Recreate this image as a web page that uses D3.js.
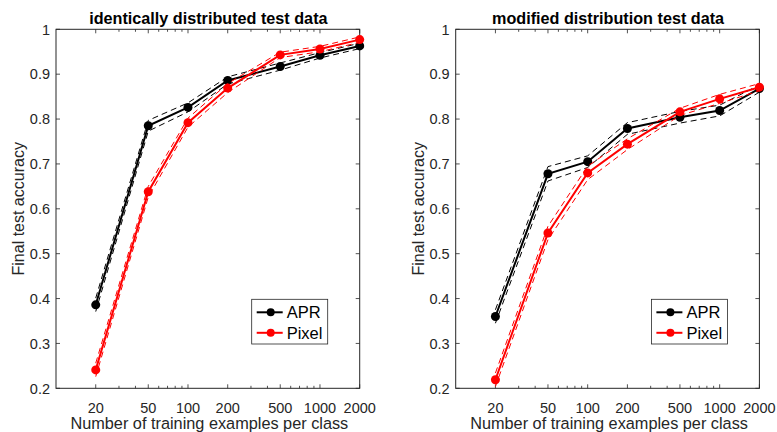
<!DOCTYPE html>
<html><head><meta charset="utf-8">
<script src="https://cdn.jsdelivr.net/npm/d3@7/dist/d3.min.js"></script>
<style>
body{margin:0;background:#fff;}
svg{display:block;font-family:"Liberation Sans",Arial,Helvetica,sans-serif;}
</style></head>
<body><svg id="c" width="777" height="432"></svg>
<script>
const xValues = [20, 50, 100, 200, 500, 1000, 2000];
const xTickLabels = ["20", "50", "100", "200", "500", "1000", "2000"];
const yTicks = [0.2, 0.3, 0.4, 0.5, 0.6, 0.7, 0.8, 0.9, 1];
const seriesNames = ["APR", "Pixel"];
const seriesColors = ["#000000", "#ff0000"];
const titles = ["identically distributed test data", "modified distribution test data"];

// left panel: identically distributed
const aprId      = [0.386, 0.785, 0.826, 0.886, 0.917, 0.942, 0.963];
const aprIdLo    = [0.371, 0.773, 0.816, 0.878, 0.909, 0.936, 0.957];
const aprIdHi    = [0.401, 0.797, 0.836, 0.894, 0.925, 0.948, 0.969];
const pixelId    = [0.241, 0.638, 0.792, 0.869, 0.943, 0.956, 0.977];
const pixelIdLo  = [0.226, 0.626, 0.782, 0.859, 0.937, 0.950, 0.971];
const pixelIdHi  = [0.256, 0.650, 0.802, 0.879, 0.949, 0.962, 0.983];

// right panel: modified distribution
const aprMod     = [0.360, 0.678, 0.705, 0.779, 0.804, 0.819, 0.868];
const aprModLo   = [0.345, 0.662, 0.692, 0.766, 0.791, 0.807, 0.860];
const aprModHi   = [0.375, 0.694, 0.718, 0.792, 0.817, 0.831, 0.876];
const pixelMod   = [0.219, 0.546, 0.680, 0.744, 0.816, 0.845, 0.871];
const pixelModLo = [0.204, 0.531, 0.665, 0.732, 0.808, 0.835, 0.863];
const pixelModHi = [0.234, 0.561, 0.695, 0.756, 0.824, 0.855, 0.879];

const panels = [
  {left:56, title:titles[0], series:[[aprId,aprIdLo,aprIdHi],[pixelId,pixelIdLo,pixelIdHi]]},
  {left:455.7, title:titles[1], series:[[aprMod,aprModLo,aprModHi],[pixelMod,pixelModLo,pixelModHi]]}
];
const W = 303.7, plotTop = 29.3, plotBottom = 388.3;
const axisCol = "#262626";
const svg = d3.select("#c");

panels.forEach(p => {
  const g = svg.append("g");
  const x = d3.scaleLog().domain([10, 2000]).range([p.left, p.left + W]);
  const y = d3.scaleLinear().domain([0.2, 1]).range([plotBottom, plotTop]);

  const minor = [];
  for (let d = 10; d < 2000; d *= 10) for (let k = 1; k <= 9; k++) { const v = d * k; if (v > 10 && v <= 2000 && !xValues.includes(v)) minor.push(v); }
  const tickG = g.append("g").attr("stroke", axisCol).attr("stroke-width", 0.8);
  minor.forEach(v => {
    tickG.append("line").attr("x1", x(v)).attr("x2", x(v)).attr("y1", plotBottom).attr("y2", plotBottom - 2.5);
    tickG.append("line").attr("x1", x(v)).attr("x2", x(v)).attr("y1", plotTop).attr("y2", plotTop + 2.5);
  });
  xValues.forEach(v => {
    tickG.append("line").attr("x1", x(v)).attr("x2", x(v)).attr("y1", plotBottom).attr("y2", plotBottom - 4);
    tickG.append("line").attr("x1", x(v)).attr("x2", x(v)).attr("y1", plotTop).attr("y2", plotTop + 4);
  });
  yTicks.forEach(v => {
    tickG.append("line").attr("x1", p.left).attr("x2", p.left + 4).attr("y1", y(v)).attr("y2", y(v));
    tickG.append("line").attr("x1", p.left + W).attr("x2", p.left + W - 4).attr("y1", y(v)).attr("y2", y(v));
  });
  g.append("rect").attr("x", p.left).attr("y", plotTop).attr("width", W).attr("height", plotBottom - plotTop)
    .attr("fill", "none").attr("stroke", axisCol).attr("stroke-width", 1);

  xValues.forEach((v, i) => {
    g.append("text").attr("x", x(v)).attr("y", 413).attr("text-anchor", "middle")
      .attr("font-size", 14.5).attr("fill", axisCol).text(xTickLabels[i]);
  });
  yTicks.forEach(v => {
    g.append("text").attr("x", p.left - 6).attr("y", y(v) + 5.2).attr("text-anchor", "end")
      .attr("font-size", 14.5).attr("fill", axisCol).text(d3.format("")(v));
  });
  g.append("text").attr("x", p.left + W / 2 + 1.5).attr("y", 428.5).attr("text-anchor", "middle")
    .attr("font-size", 16.3).attr("fill", axisCol).text("Number of training examples per class");
  g.append("text").attr("transform", `translate(${p.left - 32},${(plotTop + plotBottom) / 2}) rotate(-90)`)
    .attr("text-anchor", "middle").attr("font-size", 16).attr("fill", axisCol).text("Final test accuracy");
  g.append("text").attr("x", p.left + W / 2 + 0.5).attr("y", 23.5).attr("text-anchor", "middle")
    .attr("font-size", 16.2).attr("font-weight", "bold").attr("fill", "#000").text(p.title);

  p.series.forEach((s, si) => {
    const col = seriesColors[si];
    const line = d3.line().x((d, i) => x(xValues[i])).y(d => y(d));
    [s[1], s[2]].forEach(b => {
      g.append("path").datum(b).attr("d", line).attr("fill", "none").attr("stroke", col)
        .attr("stroke-width", 1).attr("stroke-dasharray", "6,4");
    });
    g.append("path").datum(s[0]).attr("d", line).attr("fill", "none").attr("stroke", col).attr("stroke-width", 2);
    g.selectAll(null).data(s[0]).enter().append("circle")
      .attr("cx", (d, i) => x(xValues[i])).attr("cy", d => y(d)).attr("r", 4.5).attr("fill", col);
  });

  const lx = p.left + W - 108, ly = 299.3;
  const lg = g.append("g");
  lg.append("rect").attr("x", lx).attr("y", ly).attr("width", 76).attr("height", 44.7)
    .attr("fill", "#fff").attr("stroke", axisCol).attr("stroke-width", 0.8);
  seriesNames.forEach((n, i) => {
    const yy = ly + 13 + i * 20.5;
    lg.append("line").attr("x1", lx + 5).attr("x2", lx + 31).attr("y1", yy).attr("y2", yy)
      .attr("stroke", seriesColors[i]).attr("stroke-width", 2);
    lg.append("circle").attr("cx", lx + 19).attr("cy", yy).attr("r", 4).attr("fill", seriesColors[i]);
    lg.append("text").attr("x", lx + 35).attr("y", yy + 5.8).attr("font-size", 16.5).attr("fill", "#000").text(n);
  });
});
</script></body></html>
